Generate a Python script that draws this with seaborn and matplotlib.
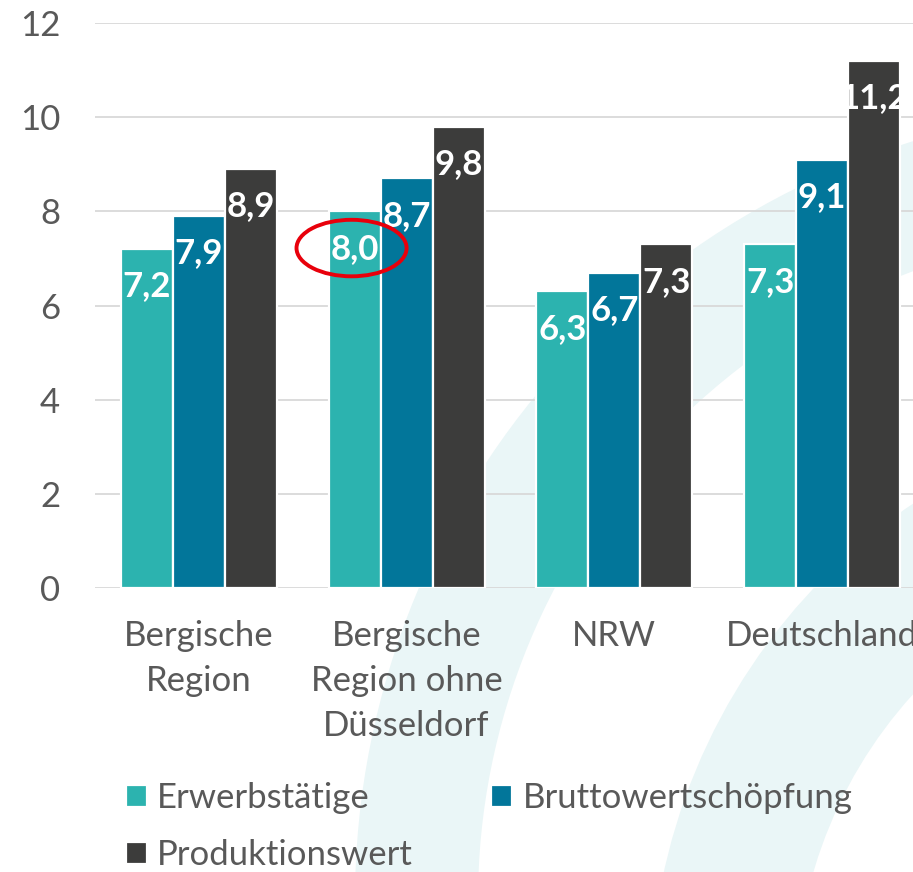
import pandas as pd
import numpy as np
import seaborn as sns
import matplotlib.pyplot as plt
from matplotlib.patches import Wedge, Ellipse

categories = ["Bergische\nRegion", "Bergische\nRegion ohne\nDüsseldorf", "NRW", "Deutschland"]
series = ["Erwerbstätige", "Bruttowertschöpfung", "Produktionswert"]
erwerbstaetige = [7.2, 8.0, 6.3, 7.3]
bruttowert = [7.9, 8.7, 6.7, 9.1]
produktionswert = [8.9, 9.8, 7.3, 11.2]
colors = ["#2CB3AF", "#02769A", "#3C3C3B"]
y_ticks = [0, 2, 4, 6, 8, 10, 12]

df = pd.DataFrame({
    "Region": categories * 3,
    "Serie": [s for s in series for _ in categories],
    "Wert": erwerbstaetige + bruttowert + produktionswert,
})

sns.set_theme(style="white")
plt.rcParams['font.family'] = ['Lato', 'DejaVu Sans']
grey = "#595959"

W, H = 913, 872
fig = plt.figure(figsize=(W / 100, H / 100), dpi=100)
fig.patch.set_facecolor("white")

# decorative background arcs
bg = fig.add_axes([0, 0, 1, 1], zorder=0)
bg.set_xlim(0, W)
bg.set_ylim(0, H)
bg.axis("off")
bg.add_patch(Wedge((1150, -28), 795, 90, 180, width=123, color="#EAF6F7", lw=0))
bg.add_patch(Wedge((1250, -128), 600, 90, 180, width=145, color="#EAF6F7", lw=0))

# main axes: x from -0.5 at px 95 to 3.5 at px ~926 (clipped at the right)
left = 95 / W
width = (199 + 3.5 * 207.7 - 95) / W
bottom = 1 - 588 / H
height = (588 - 23) / H
ax = fig.add_axes([left, bottom, width, height], zorder=1)
ax.patch.set_alpha(0)

sns.barplot(data=df, x="Region", y="Wert", hue="Serie", palette=colors,
            width=0.75, edgecolor="white", linewidth=1.6, saturation=1,
            ax=ax)

ax.set_xlim(-0.5, 3.5)
ax.set_ylim(0, 12)
ax.set_yticks(y_ticks)
ax.set_xlabel("")
ax.set_ylabel("")
ax.grid(axis="y", color="#D9D9D9", linewidth=1.3)
ax.set_axisbelow(True)
for s in ax.spines.values():
    s.set_visible(False)
ax.tick_params(axis="y", length=0, pad=25, labelsize=25, labelcolor=grey)
ax.tick_params(axis="x", length=0, pad=23, labelsize=25, labelcolor=grey)
for lab in ax.get_xticklabels():
    lab.set_linespacing(1.5)

# value labels inside the bars
for cont in ax.containers:
    for bar in cont:
        v = bar.get_height()
        ax.annotate(f"{v:.1f}".replace(".", ","),
                    (bar.get_x() + bar.get_width() / 2, v),
                    xytext=(0, -27), textcoords="offset points",
                    ha="center", va="center", color="white",
                    fontsize=25, fontweight="bold", zorder=5)

# red highlight around 8,0
ax.add_patch(Ellipse((0.735, 7.22), 0.53, 1.2, fill=False,
                     edgecolor="#E8000B", linewidth=2.8, zorder=6))

handles, labels = ax.get_legend_handles_labels()
ax.legend_.remove()
order = [0, 2, 1]  # row-wise: Erwerbstätige, Bruttowertschöpfung / Produktionswert
fig.legend([handles[i] for i in order], [labels[i] for i in order],
           ncol=2, loc="upper left",
           bbox_to_anchor=(126 / W, 1 - 782 / H), frameon=False,
           fontsize=25, labelcolor=grey, handlelength=0.6, handleheight=0.6,
           handletextpad=0.3, columnspacing=2.25, labelspacing=0.72,
           borderpad=0, borderaxespad=0)

fig.savefig("out.png", dpi=100)
